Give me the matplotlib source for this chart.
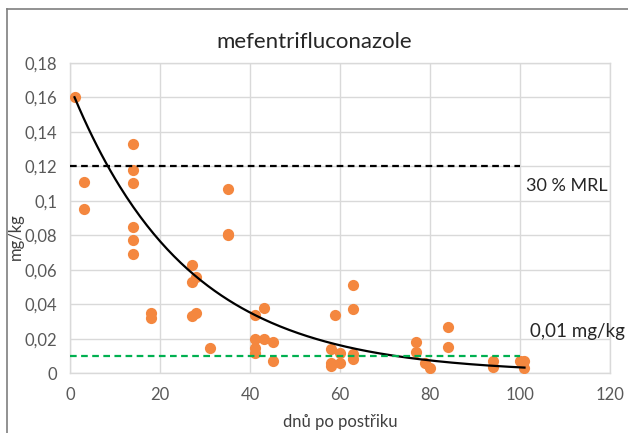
import numpy as np
import matplotlib
matplotlib.use("Agg")
import matplotlib.pyplot as plt
from matplotlib.ticker import FuncFormatter, MultipleLocator
from matplotlib.lines import Line2D

plt.rcParams['font.family'] = ['Lato', 'DejaVu Sans']

# days after spraying vs. residue (mg/kg)
days = [1, 3, 3,
        14, 14, 14, 14, 14, 14,
        18, 18,
        27, 27, 27, 28, 28,
        31,
        35, 35, 35,
        41, 41, 41, 41, 43, 43, 45, 45,
        58, 58, 58, 59, 60, 60,
        63, 63, 63, 63,
        77, 77, 79, 80,
        84, 84,
        94, 94, 100, 101, 101]
residue = [0.160, 0.111, 0.095,
           0.133, 0.118, 0.110, 0.085, 0.077, 0.069,
           0.035, 0.032,
           0.063, 0.053, 0.033, 0.056, 0.035,
           0.0145,
           0.107, 0.081, 0.080,
           0.034, 0.020, 0.0145, 0.012, 0.038, 0.020, 0.018, 0.007,
           0.014, 0.006, 0.0045, 0.034, 0.0115, 0.006,
           0.051, 0.037, 0.011, 0.008,
           0.018, 0.0125, 0.006, 0.003,
           0.027, 0.015,
           0.007, 0.0035, 0.007, 0.007, 0.003]

# exponential trend (as drawn in the chart): y = a * exp(-b * x)
trend_a = 0.1663
trend_b = 0.0388

mrl30 = 0.12
loq = 0.01
limit_x = [0, 100]

fig = plt.figure(figsize=(6.28, 4.33), dpi=100)
ax = fig.add_axes([0.1115, 0.1379, 0.8598, 0.7173])

grid_col = '#D9D9D9'
ax.set_xlim(0, 120)
ax.set_ylim(0, 0.18)
ax.xaxis.set_major_locator(MultipleLocator(20))
ax.yaxis.set_major_locator(MultipleLocator(0.02))
ax.grid(True, color=grid_col, linewidth=1.0)
ax.set_axisbelow(True)
for s in ax.spines.values():
    s.set_color(grid_col)
    s.set_linewidth(1.0)

fmt = FuncFormatter(lambda v, p: ('%g' % round(v, 4)).replace('.', ','))
ax.yaxis.set_major_formatter(fmt)
ax.tick_params(length=0, labelsize=12, colors='#595959')
ax.tick_params(axis='y', pad=9)
ax.tick_params(axis='x', pad=10)

ax.scatter(days, residue, s=65, color='#F4873F', zorder=3, linewidths=0)

xs = np.linspace(min(days), max(days), 200)
ax.plot(xs, trend_a * np.exp(-trend_b * xs), color='black', linewidth=1.6, zorder=4)

ax.plot(limit_x, [mrl30, mrl30], color='black', linewidth=1.6,
        linestyle=(0, (3, 2)), zorder=4)
ax.plot(limit_x, [loq, loq], color='#00B050', linewidth=1.6,
        linestyle=(0, (3, 2)), zorder=4)

ax.text(101.3, 0.1085, '30 % MRL', fontsize=13, color='#262626', va='center', ha='left')
ax.text(102.3, 0.0245, '0,01 mg/kg', fontsize=13.5, color='#262626', va='center', ha='left')

fig.text(0.5, 0.903, 'mefentrifluconazole', fontsize=16, color='#262626',
         ha='center', va='center')
ax.set_xlabel('dnů po postřiku', fontsize=12, color='#404040', labelpad=8)
ax.set_ylabel('mg/kg', fontsize=12, color='#404040')
ax.yaxis.set_label_coords(-0.085, 0.44)

# chart area border (top and left visible)
fig.add_artist(Line2D([0.011, 1.0], [0.979, 0.979], color='#7F7F7F', linewidth=1.2))
fig.add_artist(Line2D([0.011, 0.011], [0.0, 0.979], color='#7F7F7F', linewidth=1.2))

fig.savefig('out.png', dpi=100)
